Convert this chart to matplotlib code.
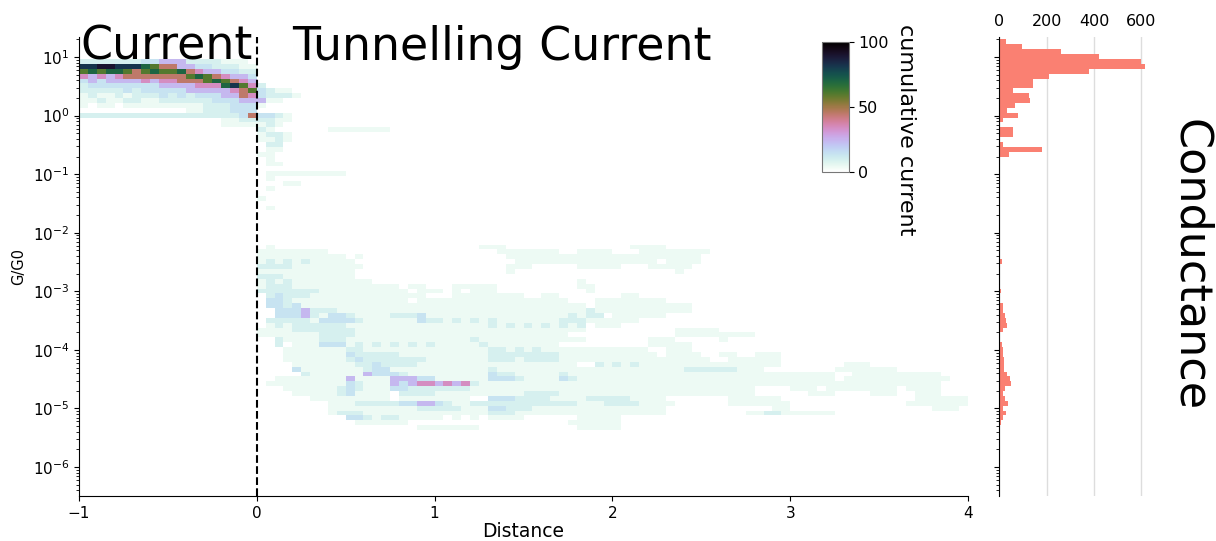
import numpy as np
import matplotlib
matplotlib.use("Agg")
import matplotlib.pyplot as plt

# distance bins (x) and log10(G/G0) bins (y), top row first
dist_lo, dist_hi, n_dist = -1.0, 4.0, 100
logg_top, logg_bottom, n_logg = 1.30, -5.37, 80

# cumulative current per cell, one string per conductance row,
# blocks of 20 distance bins: [-1,0] | [0,1] | [1,2] | [2,3] | [3,4]
LEVELS = {'.': 0, '1': 4, '2': 9, '3': 14, '4': 24, '5': 34, '6': 45,
          '7': 60, '8': 70, '9': 82, '#': 90}
HEAT_ROWS = [
    "",
    "",
    "",
    "",
    "2222222334442222111.",
    "99##9998766443322211",
    "78788767877865443322",
    "54545666666678765443",
    "34344445455666787654",
    "23333333344445558975|2...................",
    "22222323333344444567|3211................",
    "12112122232323334465|32221...............",
    "11211221122222233344|411.................",
    "1.11.111111111222333|1...................",
    "............11222333",
    "22222222222222222236|3321................",
    "................1122|2211................",
    "................1111|121.................",
    "....................|21......1111111.....",
    "....................|1221................",
    "....................|1121................",
    "....................|.22.................",
    "....................|.11.................",
    "....................|11..................",
    "....................|.1..................",
    "....................|.11.................",
    "",
    "....................|.111111111..........",
    "....................|.1..................",
    "....................|...11...............",
    "....................|.1..................",
    "",
    "....................|1...................",
    "",
    "....................|.1..................",
    "", "", "", "", "", "", "",
    "....................|.1..................|.....111............|..1111..............",
    "....................|11111111............|.......1111111..1111|...11111111.........",
    "....................|1111111111.1........|........111111111111|1111111111..........",
    "....................|12121211111.........|.........11111111111|11111.1111..........",
    "....................|222211111111........|........111.....1111|1...11111...........",
    "....................|11111111111.........|........1...........|.......1............",
    "....................|22211111111.........",
    "....................|1212111111111.......|................1...",
    "....................|1222111111111111.11.|..11111.........11..",
    "....................|22222221111111111.11|1.1.111..........1..",
    "....................|.232221111111111111.|..11111111..11......|.11.................",
    "....................|.3321111111111111.11|111111111111111...11|111111..............",
    "....................|.3323111111111111111|11111111111111111.11|111111111...........",
    "....................|..333422211111111111|11111111111111111211|111111111...........",
    "....................|..333421332111122231|1111111111111112122.|111111..............",
    "....................|.2222213333211111132|21212121111111222111|111.................",
    "....................|.1212222221111111111|11111121212121212.11|1...................",
    "....................|11112222222111111111|11111111111111111...|.......11111........",
    "....................|11111112222111111111|111111111111111.....|.......111111111....",
    "....................|..211112221111111111|11112111111111111...|....111.....1.......",
    "....................|..2.1113331212121212|11111211111111......|....11111...........",
    "....................|...11111112211111111|11111122121211111111|1111..111...........",
    "....................|...11111113222221111|11111122222222111111|11111.1111..11..111.",
    "....................|...11111112322222221|11111122212222111111|11111111111..111111.",
    "....................|....1111111223222211|1111111111111111..21|2121111111111111111.|......111...........",
    "....................|....3111111123311111|11111121111111111111|11111111222222111...|.....1111111........",
    "....................|.....211111143332111|11111132211111211111|11111111111111111111|11111..1111111111...",
    "....................|..111111114111144433|11111133321111321111|11111111111111111111|11111.111111111111..",
    "....................|.1111111113211143455|45452111111111111111|11111111111111111111|11111111111111111...",
    "....................|...11111123211133222|22221111111111111111|1111111111111111....|111.11111111.1111...",
    "....................|....11111231111.2222|11111111112222111111|1111111111111111....|..111....111..111...",
    "....................|......111111111.1111|1111..33322221111222|221111.......111111.|..............111111",
    "....................|........111222223344|32112222222222221112|2221111......1111111|.............1111111",
    "....................|........111111111122|22211133222111111111|111111............11|................111.",
    "....................|........122211111111|11111122211111111111|111111.........11221|11111...............",
    "....................|..........3321221111|1.1.1.1111......1111|1...................",
    "....................|...........111111...|...............11111|1...................",
    "....................|..................11|11111...........1111|1...................",
]

# conductance histogram counts, same log bins, top bin first
HIST_COUNTS = [28, 94, 260, 420, 597, 617, 380, 211, 141, 141,
               56, 124, 131, 66, 32, 79, 14, 0, 59, 59,
               0, 17, 179, 42, 0, 0, 0, 5, 0, 0,
               0, 0, 0, 0, 0, 0, 0, 0, 0, 0,
               0, 0, 0, 0, 0, 10, 0, 0, 0, 0,
               0, 7, 4, 4, 14, 14, 24, 28, 31, 14,
               3, 4, 10, 14, 17, 20, 21, 20, 34, 45,
               51, 24, 17, 25, 38, 14, 28, 14, 7, 3]

x_edges = np.linspace(dist_lo, dist_hi, n_dist + 1)
y_edges = 10 ** np.linspace(logg_top, logg_bottom, n_logg + 1)
grid = np.array([[LEVELS[ch] for ch in row.replace('|', '').ljust(n_dist, '.')[:n_dist]]
                 for row in HEAT_ROWS], dtype=float)
grid = np.ma.masked_equal(grid, 0)

W, H = 1216, 541
fig = plt.figure(figsize=(W / 100, H / 100), dpi=100)
ylim = (3.2e-7, 22)

# main heatmap
ax = fig.add_axes([79 / W, 1 - 496 / H, 889 / W, 459 / H])
mesh = ax.pcolormesh(x_edges, y_edges, grid, cmap='cubehelix_r', vmin=0, vmax=100)
ax.set_yscale('log')
ax.set_ylim(*ylim)
ax.set_xlim(dist_lo, dist_hi)
ax.axvline(0, color='black', ls='--', lw=1.5)
for s in ['top', 'right']:
    ax.spines[s].set_visible(False)
ax.tick_params(labelsize=11)
ax.set_xlabel('Distance', fontsize=13.5, labelpad=1)
ax.set_ylabel('G/G0', fontsize=10.5, labelpad=5)
ax.text(-0.99, 9.0, 'Current', fontsize=33, va='baseline', ha='left')
ax.text(0.2, 9.0, 'Tunnelling Current', fontsize=33, va='baseline', ha='left')

# colorbar inset
cax = fig.add_axes([822 / W, 1 - 172 / H, 26.5 / W, 130 / H])
cb = fig.colorbar(mesh, cax=cax, ticks=[0, 50, 100])
cb.ax.tick_params(labelsize=11.5)
cb.outline.set_edgecolor('#777777')
fig.text(906 / W, 1 - 24 / H, 'cumulative current', rotation=270,
         ha='center', va='top', fontsize=16)

# conductance histogram
axh = fig.add_axes([999.3 / W, 1 - 496 / H, 154 / W, 459 / H])
lower = y_edges[1:]
axh.barh(lower, HIST_COUNTS, height=y_edges[:-1] - lower, align='edge',
         color='salmon', linewidth=0)
axh.set_yscale('log')
axh.set_ylim(*ylim)
axh.set_xlim(0, 650)
axh.set_xticks([0, 200, 400, 600])
axh.xaxis.tick_top()
axh.tick_params(axis='x', length=0, labelsize=11.5, pad=6)
axh.tick_params(axis='y', labelleft=False)
axh.grid(axis='x', color='#dddddd', lw=1)
axh.set_axisbelow(True)
for s in ['top', 'right', 'bottom']:
    axh.spines[s].set_visible(False)

fig.text(1190 / W, 1 - 265 / H, 'Conductance', rotation=270,
         ha='center', va='center', fontsize=32)

fig.savefig('out.png', dpi=100)
